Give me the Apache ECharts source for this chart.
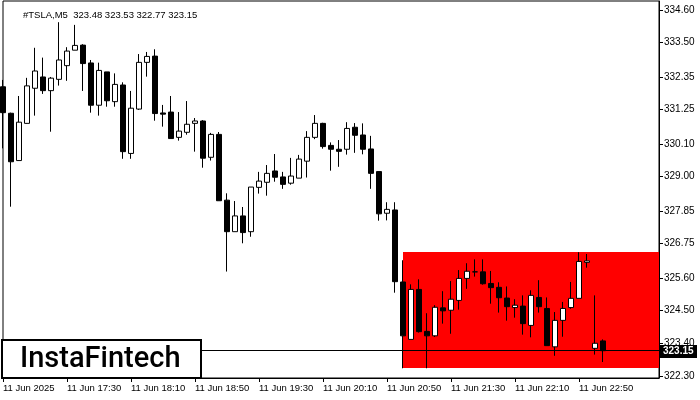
<!DOCTYPE html>
<html><head><meta charset="utf-8">
<script src="https://cdn.jsdelivr.net/npm/echarts@6/dist/echarts.min.js"></script>
<style>html,body{margin:0;padding:0;background:#fff}#c{width:700px;height:400px}</style>
</head><body><div id="c"></div>
<script>
const symbolTitle = '#TSLA,M5  323.48 323.53 322.77 323.15';
const opens = [332.02,331.13,329.54,330.79,331.97,332.35,331.89,332.27,332.73,333.25,
333.42,332.82,331.40,332.52,331.52,332.08,329.78,331.27,332.84,333.05,
331.14,331.17,330.32,330.49,330.79,330.87,329.65,330.42,328.21,327.15,
327.68,327.15,328.64,328.81,329.19,328.99,328.78,328.95,329.52,330.32,
330.79,330.05,329.92,329.92,330.66,330.40,329.93,329.17,327.77,327.88,
325.46,323.53,325.21,323.80,323.65,324.59,324.51,324.84,325.58,325.80,
325.80,325.41,325.28,324.92,324.60,324.65,324.00,324.94,324.57,323.28,
324.17,324.60,324.91,326.12,323.23,323.48];
const closes = [331.15,329.50,330.83,332.05,332.55,331.89,332.31,332.92,333.22,333.41,
332.80,331.40,332.57,331.55,332.10,329.84,331.30,332.84,333.04,331.12,
331.10,330.28,330.53,330.76,330.87,329.62,330.42,328.19,327.15,327.68,
327.12,328.65,328.85,329.11,328.98,328.74,329.02,329.59,330.32,330.79,
330.01,329.92,329.85,330.62,330.39,329.92,329.11,327.75,327.90,325.47,
323.65,325.21,323.79,323.65,324.61,324.49,324.88,325.58,325.82,325.80,
325.40,325.27,324.93,324.63,324.68,324.06,325.01,324.63,323.32,324.17,
324.57,324.91,326.15,326.17,323.40,323.15];
const highs = [332.25,331.15,331.71,332.32,333.33,333.00,332.35,334.19,333.35,334.10,
333.45,332.92,332.83,332.52,332.47,332.17,331.88,333.12,333.19,333.28,
331.41,331.71,331.17,331.54,330.97,330.90,330.47,330.50,328.44,328.18,
327.98,328.65,329.16,329.39,329.76,329.16,329.63,329.73,330.53,331.07,
330.81,330.15,330.23,330.83,330.80,330.79,330.37,329.18,328.14,328.14,
326.19,325.38,325.55,324.41,324.68,325.15,325.49,325.86,326.09,326.22,
326.22,325.83,325.45,325.31,324.88,325.01,325.18,325.52,324.94,324.45,
324.79,325.46,326.46,326.40,325.01,323.53];
const lows = [329.95,327.99,329.53,330.78,331.05,331.78,330.51,332.06,332.22,333.25,
331.88,331.15,331.05,331.35,331.35,329.60,329.60,331.24,332.36,330.88,
330.68,330.28,330.21,330.41,329.84,329.30,329.54,328.19,325.81,327.15,
326.76,326.98,328.43,328.36,328.83,328.59,328.73,328.95,328.97,330.26,
329.94,329.20,329.33,329.74,329.80,329.75,328.59,327.52,327.53,325.10,
322.56,323.53,323.76,322.56,323.61,324.06,323.72,324.53,325.23,325.64,
325.37,324.73,324.43,324.16,324.26,323.69,323.60,324.43,323.32,322.98,
323.62,324.56,324.91,325.94,323.02,322.77];
const yTickLabels = [322.30,323.40,324.50,325.60,326.75,327.85,329.00,330.10,331.25,332.35,333.50,334.60];
const xTickLabels = ['11 Jun 2025','11 Jun 17:30','11 Jun 18:10','11 Jun 18:50','11 Jun 19:30','11 Jun 20:10','11 Jun 20:50','11 Jun 21:30','11 Jun 22:10','11 Jun 22:50'];
const zoneStartBar = 50;
const zoneTop = 326.47;
const zoneBottom = 322.57;
const lastPrice = 323.15;

const barsPerLabel = 8;
const totalSlots = 83;
const categories = [];
for (let i = 0; i < totalSlots; i++) {
  const m = 16 * 60 + 50 + 5 * i;
  categories.push(i < opens.length ? ('11 Jun ' + String(Math.floor(m / 60)).padStart(2, '0') + ':' + String(m % 60).padStart(2, '0')) : '');
}
const candles = opens.map((o, i) => [o, closes[i], lows[i], highs[i]]);
const showTick = (idx) => idx % barsPerLabel === 0 && idx / barsPerLabel < xTickLabels.length;

const FONT = 'Liberation Sans';
const chart = echarts.init(document.getElementById('c'), null, {renderer: 'canvas'});
chart.setOption({
  animation: false,
  backgroundColor: '#fff',
  title: {text: symbolTitle, left: 18, top: 5, textStyle: {fontFamily: FONT, fontSize: 9.5, fontWeight: 'normal', color: '#000'}},
  grid: {left: 3, right: 41, top: 1, bottom: 22, show: true, borderColor: '#000', borderWidth: 1, backgroundColor: '#fff'},
  xAxis: {
    type: 'category', data: categories, boundaryGap: false,
    axisLine: {show: true, lineStyle: {color: '#000', width: 1}},
    axisTick: {show: true, interval: (idx) => showTick(idx), length: 4, lineStyle: {color: '#000'}},
    axisLabel: {interval: (idx) => showTick(idx), formatter: (v, idx) => xTickLabels[idx / barsPerLabel] || '', align: 'left', margin: 5,
      fontFamily: FONT, fontSize: 9.5, color: '#000', showMinLabel: true, hideOverlap: false},
    splitLine: {show: false}
  },
  yAxis: {
    type: 'value', position: 'right', min: 322.233, max: 334.9025, scale: true,
    axisLine: {show: true, lineStyle: {color: '#000', width: 1}},
    axisTick: {show: true, length: 4, customValues: yTickLabels, lineStyle: {color: '#000'}},
    axisLabel: {customValues: yTickLabels, formatter: (v) => v.toFixed(2), margin: 5, fontFamily: FONT, fontSize: 10, color: '#000', showMinLabel: true, showMaxLabel: true},
    splitLine: {show: false}
  },
  series: [{
    type: 'candlestick', data: candles, barWidth: 5,
    itemStyle: {color: '#fff', color0: '#000', borderColor: '#000', borderColor0: '#000', borderWidth: 1},
    markArea: {silent: true, itemStyle: {color: '#ff0000', opacity: 1},
      data: [[{xAxis: categories[zoneStartBar], yAxis: zoneTop}, {xAxis: totalSlots - 1, yAxis: zoneBottom}]]},
    markLine: {silent: true, symbol: ['none', 'none'], label: {show: false}, lineStyle: {color: '#000', type: 'solid', width: 1},
      data: [{yAxis: lastPrice}]}
  }]
});
const py = chart.convertToPixel({yAxisIndex: 0}, lastPrice);
chart.setOption({
  graphic: [
    {type: 'rect', z: 100, shape: {x: 660, y: Math.round(py) - 6, width: 37, height: 13}, style: {fill: '#000'}},
    {type: 'text', z: 101, x: 663, y: Math.round(py) + 0.5, style: {text: lastPrice.toFixed(2), fill: '#fff', font: 'bold 10px "Liberation Sans"', verticalAlign: 'middle'}},
    {type: 'rect', z: 100, shape: {x: 2, y: 340, width: 199, height: 38}, style: {fill: '#fff', stroke: '#000', lineWidth: 2}},
    {type: 'text', z: 101, x: 20, y: 360, style: {text: 'InstaFintech', fill: '#000', font: '500 29px Roboto', verticalAlign: 'middle'}}
  ]
});
</script></body></html>
